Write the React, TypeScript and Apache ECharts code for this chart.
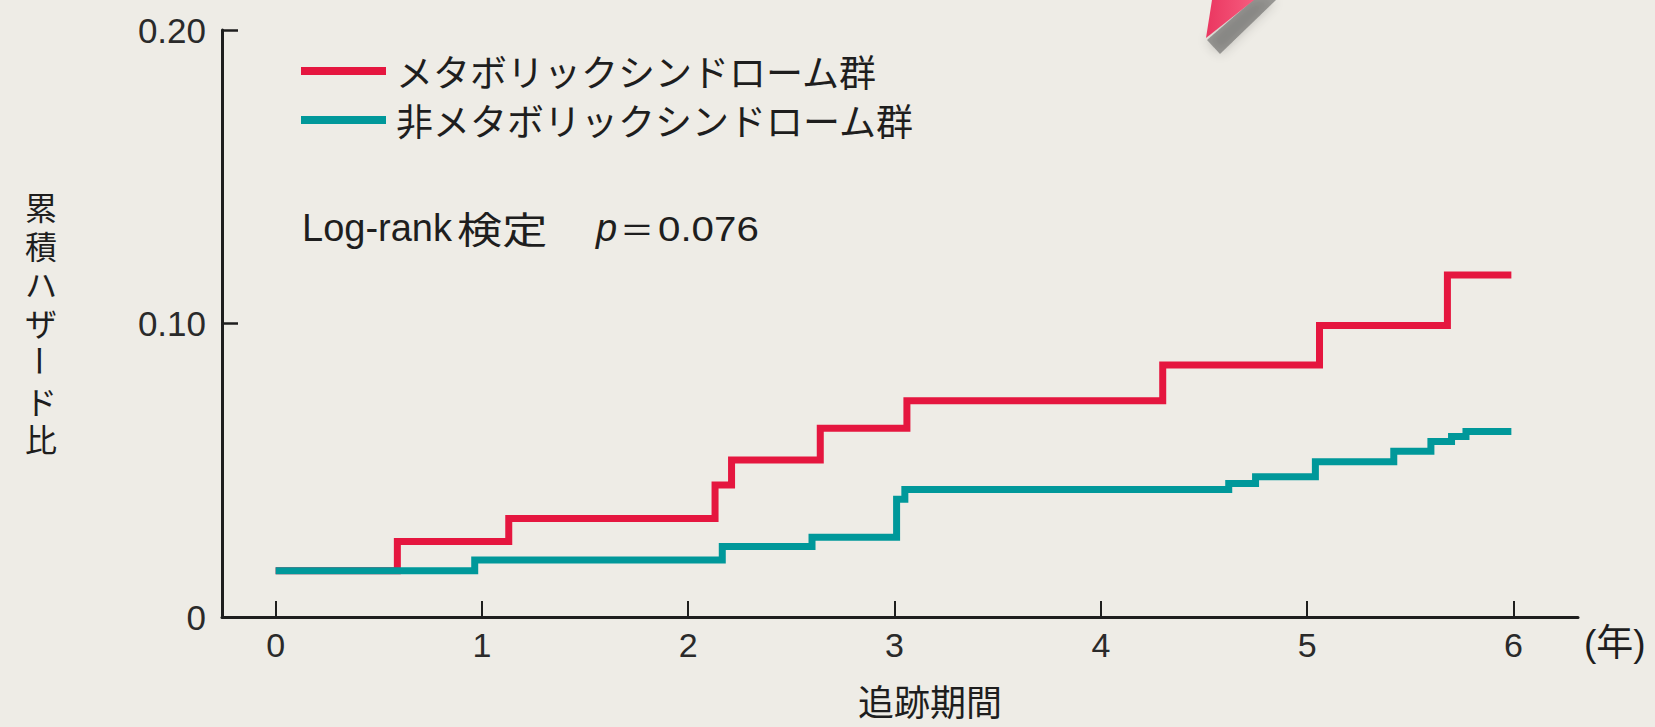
import React, { useEffect, useRef } from "react";
import * as echarts from "echarts";

// ---- data ----
const seriesNames = ["メタボリックシンドローム群", "非メタボリックシンドローム群"];
const redTimes = [0, 0.59, 1.13, 2.13, 2.21, 2.64, 3.06, 4.3, 5.06, 5.68, 5.99];
const redHazard = [0.0158, 0.0257, 0.0336, 0.045, 0.0535, 0.0643, 0.0737, 0.0859, 0.0993, 0.1165, 0.1165];
const tealTimes = [0, 0.965, 2.165, 2.6, 3.01, 3.05, 4.62, 4.75, 5.04, 5.42, 5.6, 5.7, 5.77, 5.99];
const tealHazard = [0.0158, 0.0194, 0.024, 0.0272, 0.0401, 0.0434, 0.0455, 0.0478, 0.0529, 0.0565, 0.0598, 0.0615, 0.0632, 0.0632];
const xTickValues = [0, 1, 2, 3, 4, 5, 6];
// y-axis title, written vertically in three pieces (the long-vowel mark is turned upright)
const yAxisNameTop = ["累", "積", "ハ", "ザ"];
const yAxisNameMark = "ー";
const yAxisNameBottom = ["ド", "比"];
const xAxisName = "追跡期間";
const xUnit = "(年)";
const testLabel = "Log-rank";
const testLabelJa = "検定";
const pSymbol = "p";
const eqSign = "＝";
const pValue = "0.076";

const RED = "#e5163f";
const TEAL = "#00989a";
const BG = "#eeece6";
const INK = "#1e1e1e";
const LATIN = "'Liberation Sans', Arial, 'Noto Sans CJK JP', sans-serif";
const CJK = "'Noto Sans CJK JP', 'Liberation Sans', sans-serif";

export default function App() {
  const ref = useRef<HTMLDivElement>(null);

  useEffect(() => {
    if (!ref.current) return;
    const chart = echarts.init(ref.current, undefined, { renderer: "svg" });

    const step = 38.7;
    const firstY = 206;
    const yNameStyle = {
      fontSize: 32,
      lineHeight: step,
      fontFamily: CJK,
      fill: INK,
      align: "center",
      verticalAlign: "middle",
    };
    const yNameGraphics = [
      {
        type: "text",
        x: 41,
        y: firstY + (step * (yAxisNameTop.length - 1)) / 2,
        style: { ...yNameStyle, text: yAxisNameTop.join("\n") },
      },
      {
        type: "text",
        x: 41,
        y: firstY + step * 4,
        rotation: -Math.PI / 2,
        style: { ...yNameStyle, lineHeight: 32, text: yAxisNameMark },
      },
      {
        type: "text",
        x: 41,
        y: firstY + step * 5.5,
        style: { ...yNameStyle, text: yAxisNameBottom.join("\n") },
      },
    ];

    const midY = 228;

    chart.setOption({
      animation: false,
      backgroundColor: BG,
      grid: {
        left: 222,
        right: 77,
        top: 30,
        bottom: 110,
        containLabel: false,
        outerBoundsMode: "none",
      },
      legend: {
        orient: "vertical",
        left: 296,
        top: 45,
        icon: "rect",
        itemWidth: 85,
        itemHeight: 8,
        itemGap: 7,
        selectedMode: false,
        data: seriesNames,
        textStyle: {
          fontSize: 37,
          fontFamily: CJK,
          color: INK,
          lineHeight: 42,
          padding: [0, 0, 0, 5],
        },
      },
      xAxis: {
        type: "value",
        min: -0.26,
        max: 6.313,
        splitLine: { show: false },
        axisLine: { show: true, onZero: false, lineStyle: { color: INK, width: 3 } },
        axisTick: {
          show: true,
          inside: true,
          length: 16,
          customValues: xTickValues,
          lineStyle: { color: INK, width: 2 },
        },
        axisLabel: {
          customValues: xTickValues,
          fontSize: 34,
          fontFamily: LATIN,
          color: "#2a2a2a",
          margin: 11,
        },
      },
      yAxis: {
        type: "value",
        min: 0,
        max: 0.2,
        interval: 0.1,
        splitLine: { show: false },
        axisLine: { show: true, onZero: false, lineStyle: { color: INK, width: 3 } },
        axisTick: { show: true, inside: true, length: 16, lineStyle: { color: INK, width: 2.5 } },
        axisLabel: {
          fontSize: 35,
          fontFamily: LATIN,
          color: "#2a2a2a",
          margin: 16,
          formatter: (v: number) => (v === 0 ? "0" : v.toFixed(2)),
        },
      },
      series: [
        {
          name: seriesNames[0],
          type: "line",
          step: "end",
          symbol: "none",
          color: RED,
          lineStyle: { color: RED, width: 7, join: "miter", cap: "butt" },
          itemStyle: { color: RED },
          data: redTimes.map((t, i) => [t, redHazard[i]]),
        },
        {
          name: seriesNames[1],
          type: "line",
          step: "end",
          symbol: "none",
          color: TEAL,
          lineStyle: { color: TEAL, width: 7, join: "miter", cap: "butt" },
          itemStyle: { color: TEAL },
          data: tealTimes.map((t, i) => [t, tealHazard[i]]),
        },
      ],
      graphic: [
        {
          type: "polygon",
          shape: { points: [[1253, 0], [1276, 0], [1220, 54], [1207, 40]] },
          style: { fill: "rgba(60,60,60,0.45)", shadowBlur: 12, shadowColor: "rgba(0,0,0,0.45)" },
          silent: true,
        },
        {
          type: "polygon",
          shape: { points: [[1212, 0], [1254, 0], [1206, 38]] },
          style: {
            fill: new echarts.graphic.LinearGradient(0, 0, 1, 0, [
              { offset: 0, color: "#ea3660" },
              { offset: 1, color: "#f65c7e" },
            ]),
          },
          silent: true,
        },
        ...yNameGraphics,
        {
          type: "text",
          x: 302,
          y: midY,
          style: { text: testLabel, fontSize: 38, fontFamily: LATIN, fill: INK, align: "left", verticalAlign: "middle" },
        },
        {
          type: "text",
          x: 457,
          y: midY,
          scaleX: 1.22,
          style: { text: testLabelJa, fontSize: 37, fontFamily: CJK, fill: INK, align: "left", verticalAlign: "middle" },
        },
        {
          type: "text",
          x: 596,
          y: midY,
          style: { text: pSymbol, fontSize: 38, fontStyle: "italic", fontFamily: LATIN, fill: INK, align: "left", verticalAlign: "middle" },
        },
        {
          type: "text",
          x: 620,
          y: midY,
          style: { text: eqSign, fontSize: 34, fontFamily: CJK, fill: INK, align: "left", verticalAlign: "middle" },
        },
        {
          type: "text",
          x: 658,
          y: midY,
          scaleX: 1.12,
          style: { text: pValue, fontSize: 36, fontFamily: LATIN, fill: INK, align: "left", verticalAlign: "middle" },
        },
        {
          type: "text",
          x: 1584,
          y: 643,
          style: { text: xUnit, fontSize: 37, fontFamily: LATIN, fill: INK, align: "left", verticalAlign: "middle" },
        },
        {
          type: "text",
          x: 930,
          y: 700,
          style: { text: xAxisName, fontSize: 36, lineHeight: 38, fontFamily: CJK, fill: INK, align: "center", verticalAlign: "middle" },
        },
      ],
    });

    return () => chart.dispose();
  }, []);

  return (
    <div
      ref={ref}
      style={{ position: "absolute", left: 0, top: 0, width: 1655, height: 727, background: BG }}
    />
  );
}
